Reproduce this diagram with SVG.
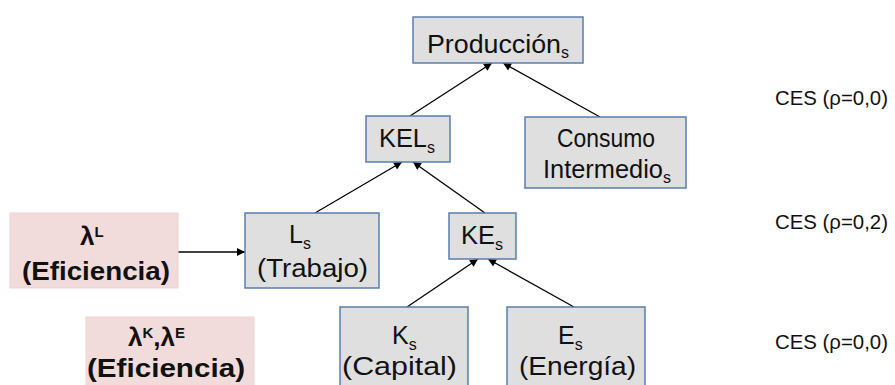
<svg xmlns="http://www.w3.org/2000/svg" width="895" height="385" viewBox="0 0 895 385">
<defs>
<style>
.box{fill:#dfdfdf;stroke:#5b7cad;stroke-width:1.5}
.pink{fill:#f2dcdb;stroke:#eed3d2;stroke-width:1}
text{font-family:"Liberation Sans",Arial,sans-serif;fill:#111}
.t{font-size:25px}
.sub{font-size:16px}
.b{font-weight:bold;font-size:26px}
.bs{font-weight:bold;font-size:15px}
.ces{font-size:20px}
.c{stroke:#000;stroke-width:1.3;fill:none;marker-end:url(#ah)}
</style>
<marker id="ah" viewBox="0 0 10 10" refX="10" refY="5" markerUnits="userSpaceOnUse" markerWidth="9" markerHeight="8" orient="auto">
<path d="M0,0 L10,5 L0,10 Z" fill="#000"/>
</marker>
</defs>
<g id="connectors">
<line class="c" x1="410" y1="116" x2="492" y2="63"/>
<line class="c" x1="600" y1="117" x2="503" y2="63"/>
<line class="c" x1="315" y1="213" x2="402" y2="162"/>
<line class="c" x1="485" y1="213" x2="413" y2="162"/>
<line class="c" x1="407" y1="307" x2="478" y2="259"/>
<line class="c" x1="574" y1="307" x2="488" y2="259"/>
<line class="c" x1="178" y1="252" x2="245" y2="252"/>
</g>
<g id="produccion">
<rect class="box" x="413" y="17" width="170" height="46"/>
<text class="t" x="427" y="53"><tspan textLength="134" lengthAdjust="spacingAndGlyphs">Producción</tspan><tspan class="sub" dy="5">s</tspan></text>
</g>
<g id="kel">
<rect class="box" x="366" y="116" width="84" height="46"/>
<text class="t" x="379" y="147"><tspan textLength="48" lengthAdjust="spacingAndGlyphs">KEL</tspan><tspan class="sub" dy="6">s</tspan></text>
</g>
<g id="consumo">
<rect class="box" x="525" y="117" width="161" height="71"/>
<text class="t" x="557" y="147" textLength="98" lengthAdjust="spacingAndGlyphs">Consumo</text>
<text class="t" x="543" y="178"><tspan textLength="120" lengthAdjust="spacingAndGlyphs">Intermedio</tspan><tspan class="sub" dy="5">s</tspan></text>
</g>
<g id="lambdaL">
<rect class="pink" x="10" y="213" width="168" height="75"/>
<text class="b" x="80" y="245">λ<tspan class="bs" dy="-8">L</tspan></text>
<text class="b" x="22" y="280" textLength="148" lengthAdjust="spacingAndGlyphs">(Eficiencia)</text>
</g>
<g id="trabajo">
<rect class="box" x="245" y="213" width="134" height="75"/>
<text class="t" x="289" y="243">L<tspan class="sub" dy="6">s</tspan></text>
<text class="t" x="257" y="277" textLength="111" lengthAdjust="spacingAndGlyphs">(Trabajo)</text>
</g>
<g id="ke">
<rect class="box" x="449" y="213" width="67" height="46"/>
<text class="t" x="461" y="244"><tspan textLength="34" lengthAdjust="spacingAndGlyphs">KE</tspan><tspan class="sub" dy="6">s</tspan></text>
</g>
<g id="lambdaKE">
<rect class="pink" x="86" y="317" width="168" height="75"/>
<text class="b" x="128" y="346">λ<tspan class="bs" dy="-8">K</tspan><tspan dy="8">,λ</tspan><tspan class="bs" dy="-8">E</tspan></text>
<text class="b" x="87" y="377" textLength="158" lengthAdjust="spacingAndGlyphs">(Eficiencia)</text>
</g>
<g id="capital">
<rect class="box" x="340" y="307" width="128" height="85"/>
<text class="t" x="392" y="344">K<tspan class="sub" dy="6">s</tspan></text>
<text class="t" x="342" y="375" textLength="115" lengthAdjust="spacingAndGlyphs">(Capital)</text>
</g>
<g id="energia">
<rect class="box" x="507" y="307" width="138" height="85"/>
<text class="t" x="558" y="344">E<tspan class="sub" dy="6">s</tspan></text>
<text class="t" x="519" y="375" textLength="117" lengthAdjust="spacingAndGlyphs">(Energía)</text>
</g>
<g id="ces-labels">
<text class="ces" x="775" y="105" textLength="113" lengthAdjust="spacingAndGlyphs">CES (ρ=0,0)</text>
<text class="ces" x="775" y="229" textLength="113" lengthAdjust="spacingAndGlyphs">CES (ρ=0,2)</text>
<text class="ces" x="775" y="349" textLength="113" lengthAdjust="spacingAndGlyphs">CES (ρ=0,0)</text>
</g>
</svg>
